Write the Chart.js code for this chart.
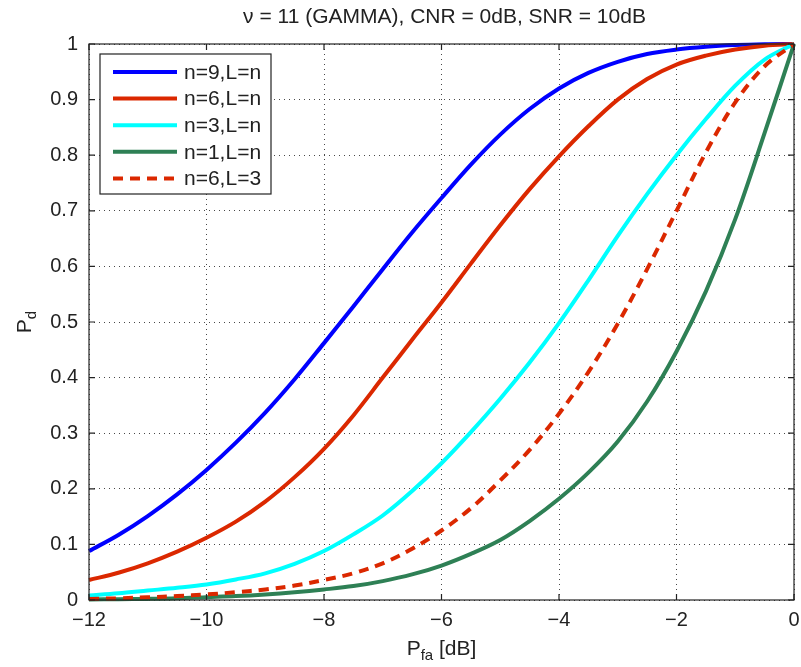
<!DOCTYPE html>
<html>
<head>
<meta charset="utf-8">
<script src="https://cdn.jsdelivr.net/npm/chart.js@4/dist/chart.umd.min.js"></script>
<style>
html,body{margin:0;padding:0;background:#fff;}
#wrap{width:801px;height:667px;}
</style>
</head>
<body>
<div id="wrap"><canvas id="c" width="801" height="667"></canvas></div>
<script>
const titleText = "\u03BD = 11 (GAMMA), CNR = 0dB, SNR = 10dB";
const xValues = [-12,-11.5,-11,-10.5,-10,-9.5,-9,-8.5,-8,-7.5,-7,-6.5,-6,-5.5,-5,-4.5,-4,-3.5,-3,-2.5,-2,-1.5,-1,-0.5,0];
const seriesLabels = ["n=9,L=n","n=6,L=n","n=3,L=n","n=1,L=n","n=6,L=3"];
const n9   = [0.088,0.117,0.151,0.190,0.234,0.283,0.337,0.397,0.462,0.528,0.595,0.661,0.723,0.783,0.837,0.883,0.920,0.948,0.968,0.982,0.990,0.995,0.998,0.9995,1];
const n6   = [0.036,0.049,0.066,0.087,0.112,0.141,0.177,0.221,0.272,0.332,0.400,0.468,0.535,0.605,0.674,0.739,0.798,0.852,0.900,0.937,0.963,0.979,0.990,0.997,1];
const n3   = [0.008,0.012,0.017,0.022,0.028,0.037,0.048,0.065,0.088,0.118,0.152,0.196,0.246,0.302,0.362,0.427,0.498,0.575,0.655,0.730,0.800,0.865,0.925,0.972,1];
const n1   = [0.001,0.0015,0.002,0.003,0.005,0.007,0.010,0.014,0.019,0.025,0.034,0.046,0.062,0.083,0.108,0.142,0.182,0.229,0.285,0.357,0.447,0.555,0.685,0.840,1];
const n6L3 = [0.002,0.003,0.005,0.007,0.010,0.014,0.019,0.026,0.036,0.048,0.066,0.092,0.125,0.165,0.215,0.270,0.335,0.410,0.497,0.595,0.700,0.805,0.895,0.960,1];
const xTicks = [-12,-10,-8,-6,-4,-2,0];
const yTicks = [0,0.1,0.2,0.3,0.4,0.5,0.6,0.7,0.8,0.9,1];

const FONT = "'Liberation Sans', Arial, Helvetica, sans-serif";
const colors = ['#0000ff','#db2800','#00ffff','#2e8055','#db2800'];
const dashes = [[],[],[],[],[10,7]];
const allSeries = [n9,n6,n3,n1,n6L3];

const datasets = allSeries.map((s,i)=>({
  label: seriesLabels[i],
  data: xValues.map((xv,j)=>({x:xv,y:s[j]})),
  borderColor: colors[i],
  borderWidth: 4,
  borderDash: dashes[i],
  pointRadius: 0,
  fill: false,
  tension: 0.35,
  clip: 4,
  order: 5-i
}));

function minus(v){ return (v<0 ? '\u2212' : '') + Math.abs(v); }

const deco = {
  id:'deco',
  afterDraw(chart){
    const {ctx, chartArea:{left,right,top,bottom}, scales:{x,y}} = chart;
    ctx.save();
    // box
    ctx.strokeStyle='#222'; ctx.lineWidth=1.2; ctx.setLineDash([]);
    ctx.strokeRect(left, top, right-left, bottom-top);
    // inward ticks
    ctx.beginPath();
    xTicks.forEach(v=>{const p=x.getPixelForValue(v); ctx.moveTo(p,bottom); ctx.lineTo(p,bottom-6); ctx.moveTo(p,top); ctx.lineTo(p,top+6);});
    yTicks.forEach(v=>{const p=y.getPixelForValue(v); ctx.moveTo(left,p); ctx.lineTo(left+6,p); ctx.moveTo(right,p); ctx.lineTo(right-6,p);});
    ctx.stroke();
    // title
    ctx.fillStyle='#222';
    ctx.font = "21px "+FONT; ctx.textAlign='center'; ctx.textBaseline='middle';
    ctx.fillText(titleText, (left+right)/2+3, 17);
    // x title
    const cx = (left+right)/2;
    ctx.font="21px "+FONT; ctx.textAlign='left'; ctx.textBaseline='alphabetic';
    const wP = ctx.measureText('P').width;
    ctx.font="15px "+FONT; const wS = ctx.measureText('fa').width;
    ctx.font="21px "+FONT; const wB = ctx.measureText(' [dB]').width;
    let sx = cx - (wP+wS+wB)/2;
    const by = 655;
    ctx.fillText('P', sx, by);
    ctx.font="15px "+FONT; ctx.fillText('fa', sx+wP, by+5);
    ctx.font="21px "+FONT; ctx.fillText(' [dB]', sx+wP+wS, by);
    // y title
    ctx.save();
    ctx.translate(31, (top+bottom)/2);
    ctx.rotate(-Math.PI/2);
    ctx.font="21px "+FONT;
    const wP2 = ctx.measureText('P').width;
    ctx.font="15px "+FONT; const wd = ctx.measureText('d').width;
    let s2 = -(wP2+wd)/2;
    ctx.font="21px "+FONT; ctx.fillText('P', s2, 0);
    ctx.font="15px "+FONT; ctx.fillText('d', s2+wP2, 5);
    ctx.restore();
    // legend
    const lx=100, ly=54, lw=171, lh=140;
    ctx.fillStyle='#fff'; ctx.fillRect(lx,ly,lw,lh);
    ctx.strokeStyle='#222'; ctx.lineWidth=1.2; ctx.strokeRect(lx,ly,lw,lh);
    chart.data.datasets.forEach((ds,i)=>{
      const ry = 72 + i*26.6;
      ctx.strokeStyle=ds.borderColor; ctx.lineWidth=4; ctx.setLineDash(ds.borderDash||[]);
      ctx.beginPath(); ctx.moveTo(113,ry); ctx.lineTo(177,ry); ctx.stroke();
      ctx.setLineDash([]);
      ctx.fillStyle='#222'; ctx.font="21px "+FONT; ctx.textAlign='left'; ctx.textBaseline='middle';
      ctx.fillText(ds.label, 184, ry+1);
    });
    ctx.restore();
  }
};

new Chart(document.getElementById('c'), {
  type:'line',
  data:{datasets},
  options:{
    responsive:false,
    animation:false,
    layout:{padding:{top:44,right:7,left:0,bottom:0}},
    plugins:{legend:{display:false},tooltip:{enabled:false},title:{display:false}},
    scales:{
      x:{
        type:'linear', min:-12, max:0,
        afterBuildTicks: s=>{ s.ticks = xTicks.map(v=>({value:v})); },
        afterFit: s=>{ s.height = 67; s.paddingLeft = 0; s.paddingRight = 0; },
        ticks:{ callback:v=>minus(v), font:{size:20, family:FONT}, color:'#222', padding:8, maxRotation:0 },
        grid:{ color:'rgba(40,40,40,0.85)', lineWidth:1, drawTicks:false },
        border:{ display:false, dash:[1,4] }
      },
      y:{
        type:'linear', min:0, max:1,
        afterBuildTicks: s=>{ s.ticks = yTicks.map(v=>({value:v})); },
        afterFit: s=>{ s.width = 89; s.paddingTop = 0; s.paddingBottom = 0; },
        ticks:{ callback:v=>String(Math.round(v*10)/10), font:{size:20, family:FONT}, color:'#222', padding:11 },
        grid:{ color:'rgba(40,40,40,0.85)', lineWidth:1, drawTicks:false },
        border:{ display:false, dash:[1,4] }
      }
    }
  },
  plugins:[deco]
});
</script>
</body>
</html>
